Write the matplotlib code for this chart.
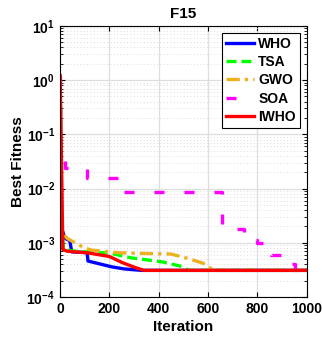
"""F15 收敛曲线对比：WHO / TSA / GWO / SOA / IWHO(对数纵轴)。"""

import matplotlib

matplotlib.use("Agg")
import matplotlib.pyplot as plt

plt.rcParams["font.family"] = ["Liberation Sans", "DejaVu Sans"]
plt.rcParams["font.weight"] = "bold"

# 各算法收敛曲线的拐点(迭代次数, 最优适应度)。
WHO_ITER = [1, 5, 18, 22, 40, 48, 110, 114, 150, 210, 260, 330, 1000]
WHO_VAL = [1.2, 2e-3, 1.3e-3, 1.2e-3, 1.1e-3, 6.8e-4, 6.6e-4, 4.6e-4, 4.2e-4, 3.6e-4, 3.3e-4, 3.1e-4, 3.1e-4]

TSA_ITER = [1, 6, 15, 60, 200, 285, 330, 420, 500, 520, 1000]
TSA_VAL = [1.3, 2e-3, 7.5e-4, 7e-4, 6.5e-4, 5.3e-4, 5e-4, 4.4e-4, 3.6e-4, 3.1e-4, 3.1e-4]

GWO_ITER = [1, 5, 10, 30, 100, 130, 250, 450, 515, 580, 623, 1000]
GWO_VAL = [1.2, 3e-3, 1.5e-3, 1.2e-3, 8e-4, 7.3e-4, 6.5e-4, 6.2e-4, 5.2e-4, 4.2e-4, 3.1e-4, 3.1e-4]

SOA_ITER = [1, 2, 10, 20, 110, 255, 655, 745, 800, 855, 905, 950, 1000]
SOA_VAL = [1.2, 0.04, 0.037, 0.024, 0.016, 0.0085, 0.0018, 0.00115, 0.001, 0.0006, 0.0004, 0.00031, 0.00031]

IWHO_ITER = [1, 12, 30, 114, 200, 253, 305, 340, 1000]
IWHO_VAL = [1.2, 7.5e-4, 7e-4, 6.5e-4, 5.6e-4, 4.3e-4, 3.5e-4, 3.1e-4, 3.1e-4]

fig = plt.figure(figsize=(3.22, 3.41), dpi=100)
ax = fig.add_axes([0.186, 0.129, 0.767, 0.795])

lw = 2.4
ax.plot(WHO_ITER, WHO_VAL, color="#0000FF", linestyle="-", linewidth=lw, label="WHO")
ax.plot(TSA_ITER, TSA_VAL, color="#00FF00", linestyle=(0, (3, 1.5)), linewidth=lw, label="TSA")
ax.plot(GWO_ITER, GWO_VAL, color="#EDB120", linestyle=(0, (4, 1.5, 1, 1.5)), linewidth=lw, label="GWO")
ax.plot(SOA_ITER, SOA_VAL, color="#FF00FF", linestyle=(0, (3, 6)), linewidth=lw,
        drawstyle="steps-post", label="SOA")
ax.plot(IWHO_ITER, IWHO_VAL, color="#FF0000", linestyle="-", linewidth=lw, label="IWHO")

ax.set_yscale("log")
ax.set_xlim(0, 1000)
ax.set_ylim(1e-4, 1e1)
ax.set_xticks([0, 200, 400, 600, 800, 1000])

# MATLAB 风格：主网格实线、纵轴次网格点线，刻度朝内。
ax.grid(True, which="major", color="#dedede", linewidth=0.9)
ax.grid(True, which="minor", axis="y", color="#d0d0d0", linestyle=(0, (1, 3)), linewidth=0.6)
ax.tick_params(which="both", direction="in", top=True, right=True, labelsize=10)
for sp in ax.spines.values():
    sp.set_linewidth(0.8)

ax.set_title("F15", fontsize=11, fontweight="bold")
ax.set_xlabel("Iteration", fontsize=11, fontweight="bold", labelpad=3)
ax.set_ylabel("Best Fitness", fontsize=11, fontweight="bold", labelpad=1)

leg = ax.legend(loc="upper right", fontsize=10, fancybox=False, framealpha=1,
                edgecolor="black", handlelength=2.0, borderpad=0.3,
                labelspacing=0.3, handletextpad=0.3, borderaxespad=0.5)
leg.get_frame().set_linewidth(0.8)
for t in leg.get_texts():
    t.set_fontweight("bold")

fig.savefig("out.png", dpi=100)
